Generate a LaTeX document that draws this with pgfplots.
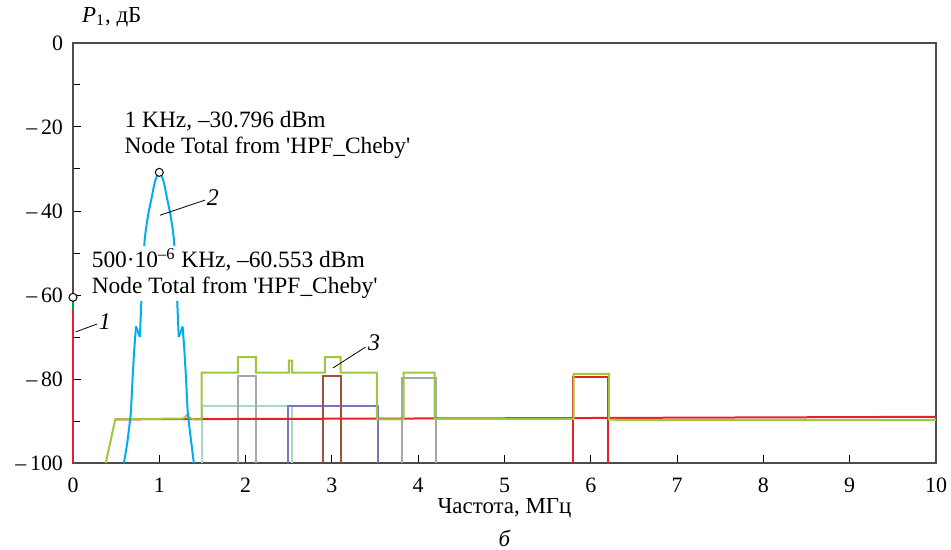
\documentclass[border=0pt]{standalone}
\usepackage{fontspec}
\setmainfont{Liberation Serif}
\usepackage{pgfplots}
\pgfplotsset{compat=1.18}

\definecolor{cRed}{HTML}{E8202A}
\definecolor{cBlue}{HTML}{00AEEF}
\definecolor{cLime}{HTML}{9FC93C}
\definecolor{cGray}{HTML}{A6A6AD}
\definecolor{cMint}{HTML}{A8DCC0}
\definecolor{cPurple}{HTML}{7D74C0}
\definecolor{cBrown}{HTML}{A0503C}
\definecolor{cGreen}{HTML}{00A050}

\newcommand{\q}{\textquotesingle}

\begin{document}
\begin{tikzpicture}
\begin{axis}[
    scale only axis,
    width=431.5bp, height=210bp,
    xmin=0, xmax=10, ymin=-100, ymax=0,
    xtick={0,1,...,10},
    xticklabels={0,1,2,3,4,5,6,7,8,9,10},
    ytick={-100,-80,-60,-40,-20,0},
    yticklabels={–\,100,–\,80,–\,60,–\,40,–\,20,0},
    minor ytick={-90,-70,-50,-30,-10},
    xtick pos=left, ytick pos=left,
    tick align=inside,
    major tick length=4bp, minor tick length=3.5bp,
    tick style={black, line width=0.5bp},
    axis line style={black!70, line width=0.6bp},
    /pgf/number format/assume math mode=true,
    ticklabel style={font=\rmfamily\fontsize{11}{12}\selectfont},
    xticklabel style={yshift=-4bp},
    yticklabel style={xshift=-1.5bp},
    clip=false,
    every axis plot/.append style={line width=1bp, mark=none},
]
% пакеты (прямоугольные спектры)
\addplot[cMint] coordinates {(1.49,-100)(1.49,-86.4)(2.54,-86.4)(2.54,-100)};
\addplot[cPurple] coordinates {(2.49,-100)(2.49,-86.4)(3.53,-86.4)(3.53,-100)};
\addplot[cGray] coordinates {(1.91,-100)(1.91,-79.4)(2.12,-79.4)(2.12,-100)};
\addplot[cGray] coordinates {(3.81,-100)(3.81,-79.7)(4.21,-79.7)(4.21,-100)};
\addplot[cBrown] coordinates {(2.90,-100)(2.90,-79.4)(3.10,-79.4)(3.10,-100)};
% кривая 1
\addplot[cRed] coordinates {(0,-100)(0,-63.5)};
\addplot[cGreen] coordinates {(0,-63.5)(0,-60.553)};
\addplot[cRed] coordinates {(0.49,-89.6)(5.8,-89.3)(10,-89.0)};
\addplot[cRed] coordinates {(5.79,-100)(5.79,-79.6)(6.20,-79.6)(6.20,-100)};
% кривая 3
\addplot[cLime] coordinates {
    (0.38,-100)(0.49,-89.6)(1.28,-89.4)(1.32,-88.6)(1.36,-89.3)(1.40,-89.6)
    (1.49,-89.6)(1.49,-78.5)(1.91,-78.5)(1.91,-74.8)(2.12,-74.8)(2.12,-78.5)
    (2.50,-78.5)(2.50,-75.6)(2.54,-75.6)(2.54,-78.5)(2.92,-78.5)(2.92,-74.8)
    (3.10,-74.8)(3.10,-78.5)(3.52,-78.5)(3.52,-89.6)(3.83,-89.6)(3.83,-78.5)
    (4.19,-78.5)(4.19,-89.5)(5.80,-89.5)(5.80,-78.8)(6.21,-78.8)(6.21,-89.7)
    (10,-89.8)
};
% кривая 2
\addplot[cBlue, smooth, tension=0.3] coordinates {
    (0.59,-100)(0.63,-95)(0.67,-88)(0.69,-80)(0.71,-73)(0.73,-67.5)
};
\addplot[cBlue] coordinates {(0.73,-67.5)(0.775,-70)};
\addplot[cBlue, smooth, tension=0.4] coordinates {
    (0.775,-70)(0.80,-58)(0.83,-47)(0.87,-41)(0.91,-37)(0.95,-33)(1.0,-30.8)
    (1.05,-33)(1.09,-37)(1.13,-41)(1.17,-47)(1.20,-58)(1.225,-70)
};
\addplot[cBlue] coordinates {(1.225,-70)(1.27,-67.5)};
\addplot[cBlue, smooth, tension=0.3] coordinates {
    (1.27,-67.5)(1.29,-73)(1.31,-80)(1.33,-88)(1.37,-95)(1.40,-100)
};

% подписи маркеров
\node[anchor=west, align=left, fill=white, inner sep=1bp,
      font=\fontsize{11.75}{13}\selectfont]
    at (axis cs:0.57,-21.9) {1 KHz, –30.796 dBm\\Node Total from \q HPF\_Cheby\q};
\node[anchor=west, align=left, fill=white, inner sep=1bp,
      font=\fontsize{11.75}{13}\selectfont]
    at (axis cs:0.19,-54.9) {500·10\textsuperscript{–6} KHz, –60.553 dBm\\Node Total from \q HPF\_Cheby\q};
\draw[black, line width=0.5bp, fill=white] (axis cs:1,-30.796) circle (2bp);
\draw[black, line width=0.5bp, fill=white] (axis cs:0,-60.553) circle (2bp);

% номера кривых
\draw[black, line width=0.4bp] (axis cs:0.03,-68.8) -- (axis cs:0.28,-66.9);
\node[font=\fontsize{12}{13}\selectfont\itshape] at (axis cs:0.37,-66.3) {1};
\draw[black, line width=0.4bp] (axis cs:1.01,-41) -- (axis cs:1.53,-37.4);
\node[font=\fontsize{12}{13}\selectfont\itshape] at (axis cs:1.62,-36.9) {2};
\draw[black, line width=0.4bp] (axis cs:3.01,-77.4) -- (axis cs:3.39,-72.4);
\node[font=\fontsize{12}{13}\selectfont\itshape] at (axis cs:3.49,-71.3) {3};

% подписи осей
\node[anchor=west, font=\fontsize{11.5}{13}\selectfont] at ([shift={(1bp,13bp)}]rel axis cs:0,1) {\textit{P}\textsubscript{1}, дБ};
\node[font=\fontsize{11.5}{13}\selectfont] at ([yshift=-22.5bp]axis cs:5,-100) {Частота, МГц};
\node[font=\fontsize{11.5}{13}\selectfont\itshape] at ([yshift=-37.5bp]axis cs:5,-100) {б};

\coordinate (sw) at (rel axis cs:0,0);
\coordinate (ne) at (rel axis cs:1,1);
\end{axis}
\pgfresetboundingbox
\path[use as bounding box] ([shift={(-36.5bp,-43.5bp)}]sw) rectangle ([shift={(7.5bp,21.5bp)}]ne);
\end{tikzpicture}
\end{document}
